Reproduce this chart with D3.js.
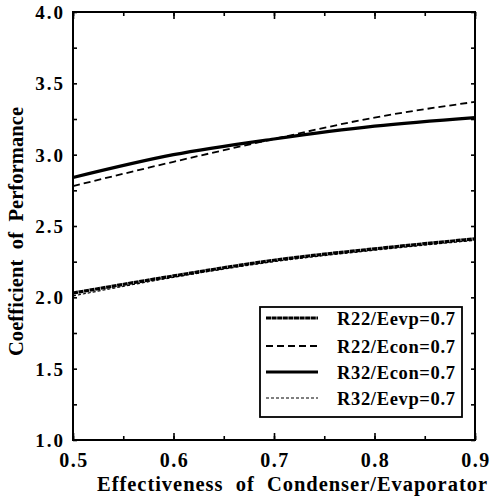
<!DOCTYPE html>
<html>
<head>
<meta charset="utf-8">
<script src="https://cdn.jsdelivr.net/npm/d3@7/dist/d3.min.js"></script>
<style>
  html, body { margin: 0; padding: 0; background: #fff; }
  svg { display: block; }
</style>
</head>
<body>
<svg id="chart" width="490" height="504"></svg>
<script>
// Effectiveness of condenser / evaporator on the x axis
const effectiveness = [0.5, 0.6, 0.7, 0.8, 0.9];

// COP for each refrigerant / fixed-effectiveness case
const r22Eevp = [2.03, 2.15, 2.26, 2.34, 2.41];
const r22Econ = [2.78, 2.95, 3.11, 3.26, 3.37];
const r32Econ = [2.84, 3.00, 3.11, 3.20, 3.26];
const r32Eevp = [2.01, 2.14, 2.25, 2.33, 2.40];

const seriesNames = ["R22/Eevp=0.7", "R22/Econ=0.7", "R32/Econ=0.7", "R32/Eevp=0.7"];

const xTickValues = [0.5, 0.6, 0.7, 0.8, 0.9];
const xTickLabels = ["0.5", "0.6", "0.7", "0.8", "0.9"];
const yTickValues = [1.0, 1.5, 2.0, 2.5, 3.0, 3.5, 4.0];
const yTickLabels = ["1.0", "1.5", "2.0", "2.5", "3.0", "3.5", "4.0"];

const xTitle = "Effectiveness  of  Condenser/Evaporator";
const yTitle = "Coefficient  of  Performance";

const FONT = "'Liberation Serif', 'Times New Roman', Times, serif";

// line styles per series
const styles = [
  { width: 3.2, dash: "5,0.6" },
  { width: 1.8, dash: "7,4" },
  { width: 3.2, dash: null },
  { width: 1.2, dash: "3,2" }
];
const seriesValues = [r22Eevp, r22Econ, r32Econ, r32Eevp];

const svg = d3.select("#chart");
const m = { left: 73, top: 12, right: 475, bottom: 440 };

const x = d3.scaleLinear().domain([0.5, 0.9]).range([m.left, m.right]);
const y = d3.scaleLinear().domain([1.0, 4.0]).range([m.bottom, m.top]);

const xMinor = d3.range(0.5, 0.9001, 0.05);
const yMinor = d3.range(1.0, 4.0001, 0.25);

// inward ticks on all four sides
const axG = svg.append("g");
axG.append("g").attr("transform", `translate(0,${m.bottom})`)
  .call(d3.axisTop(x).tickValues(xMinor).tickSize(4).tickFormat(""));
axG.append("g").attr("transform", `translate(0,${m.bottom})`)
  .call(d3.axisTop(x).tickValues(xTickValues).tickSize(7).tickFormat(""));
axG.append("g").attr("transform", `translate(0,${m.top})`)
  .call(d3.axisBottom(x).tickValues(xMinor).tickSize(4).tickFormat(""));
axG.append("g").attr("transform", `translate(0,${m.top})`)
  .call(d3.axisBottom(x).tickValues(xTickValues).tickSize(7).tickFormat(""));
axG.append("g").attr("transform", `translate(${m.left},0)`)
  .call(d3.axisRight(y).tickValues(yMinor).tickSize(4).tickFormat(""));
axG.append("g").attr("transform", `translate(${m.right},0)`)
  .call(d3.axisLeft(y).tickValues(yMinor).tickSize(4).tickFormat(""));
axG.selectAll(".domain").remove();
axG.selectAll(".tick line").attr("stroke", "#000").attr("stroke-width", 1.6);

// frame
svg.append("rect")
  .attr("x", m.left).attr("y", m.top)
  .attr("width", m.right - m.left).attr("height", m.bottom - m.top)
  .attr("fill", "none").attr("stroke", "#000").attr("stroke-width", 2);

const txt = svg.append("g")
  .attr("font-family", FONT).attr("font-weight", "bold").attr("fill", "#000");

// tick labels
txt.append("g").selectAll("text").data(xTickValues).join("text")
  .attr("x", d => x(d) + 1).attr("y", 467)
  .attr("text-anchor", "middle").attr("font-size", 20)
  .attr("letter-spacing", 1.5)
  .text((d, i) => xTickLabels[i]);
txt.append("g").selectAll("text").data(yTickValues).join("text")
  .attr("x", 65).attr("y", d => y(d) + 7)
  .attr("text-anchor", "end").attr("font-size", 19)
  .attr("letter-spacing", 2)
  .text((d, i) => yTickLabels[i]);

// axis titles
txt.append("text").attr("x", 97).attr("y", 491)
  .attr("font-size", 20.5)
  .attr("textLength", 390).attr("lengthAdjust", "spacing")
  .style("white-space", "pre")
  .text(xTitle);
txt.append("text")
  .attr("transform", `translate(23,356) rotate(-90)`)
  .attr("font-size", 20.5)
  .attr("textLength", 249).attr("lengthAdjust", "spacing")
  .style("white-space", "pre")
  .text(yTitle);

// curves
const line = d3.line()
  .x((d, i) => x(effectiveness[i]))
  .y(d => y(d))
  .curve(d3.curveMonotoneX);

const drawOrder = [3, 0, 1, 2];
svg.append("g").selectAll("path").data(drawOrder).join("path")
  .attr("d", k => line(seriesValues[k]))
  .attr("fill", "none")
  .attr("stroke", "#000")
  .attr("stroke-width", k => styles[k].width)
  .attr("stroke-dasharray", k => styles[k].dash);

// legend
const lg = svg.append("g");
lg.append("rect").attr("x", 260).attr("y", 307).attr("width", 202).attr("height", 110)
  .attr("fill", "#fff").attr("stroke", "#000").attr("stroke-width", 1.8);
const rowY = [318, 346, 372, 398];
seriesNames.forEach((name, k) => {
  lg.append("line")
    .attr("x1", 266).attr("x2", 318).attr("y1", rowY[k]).attr("y2", rowY[k])
    .attr("stroke", "#000")
    .attr("stroke-width", styles[k].width)
    .attr("stroke-dasharray", styles[k].dash);
  lg.append("text").attr("x", 337).attr("y", rowY[k] + 7)
    .attr("font-family", FONT).attr("font-weight", "bold")
    .attr("font-size", 18.5)
    .attr("textLength", 118).attr("lengthAdjust", "spacing")
    .text(name);
});
</script>
</body>
</html>
